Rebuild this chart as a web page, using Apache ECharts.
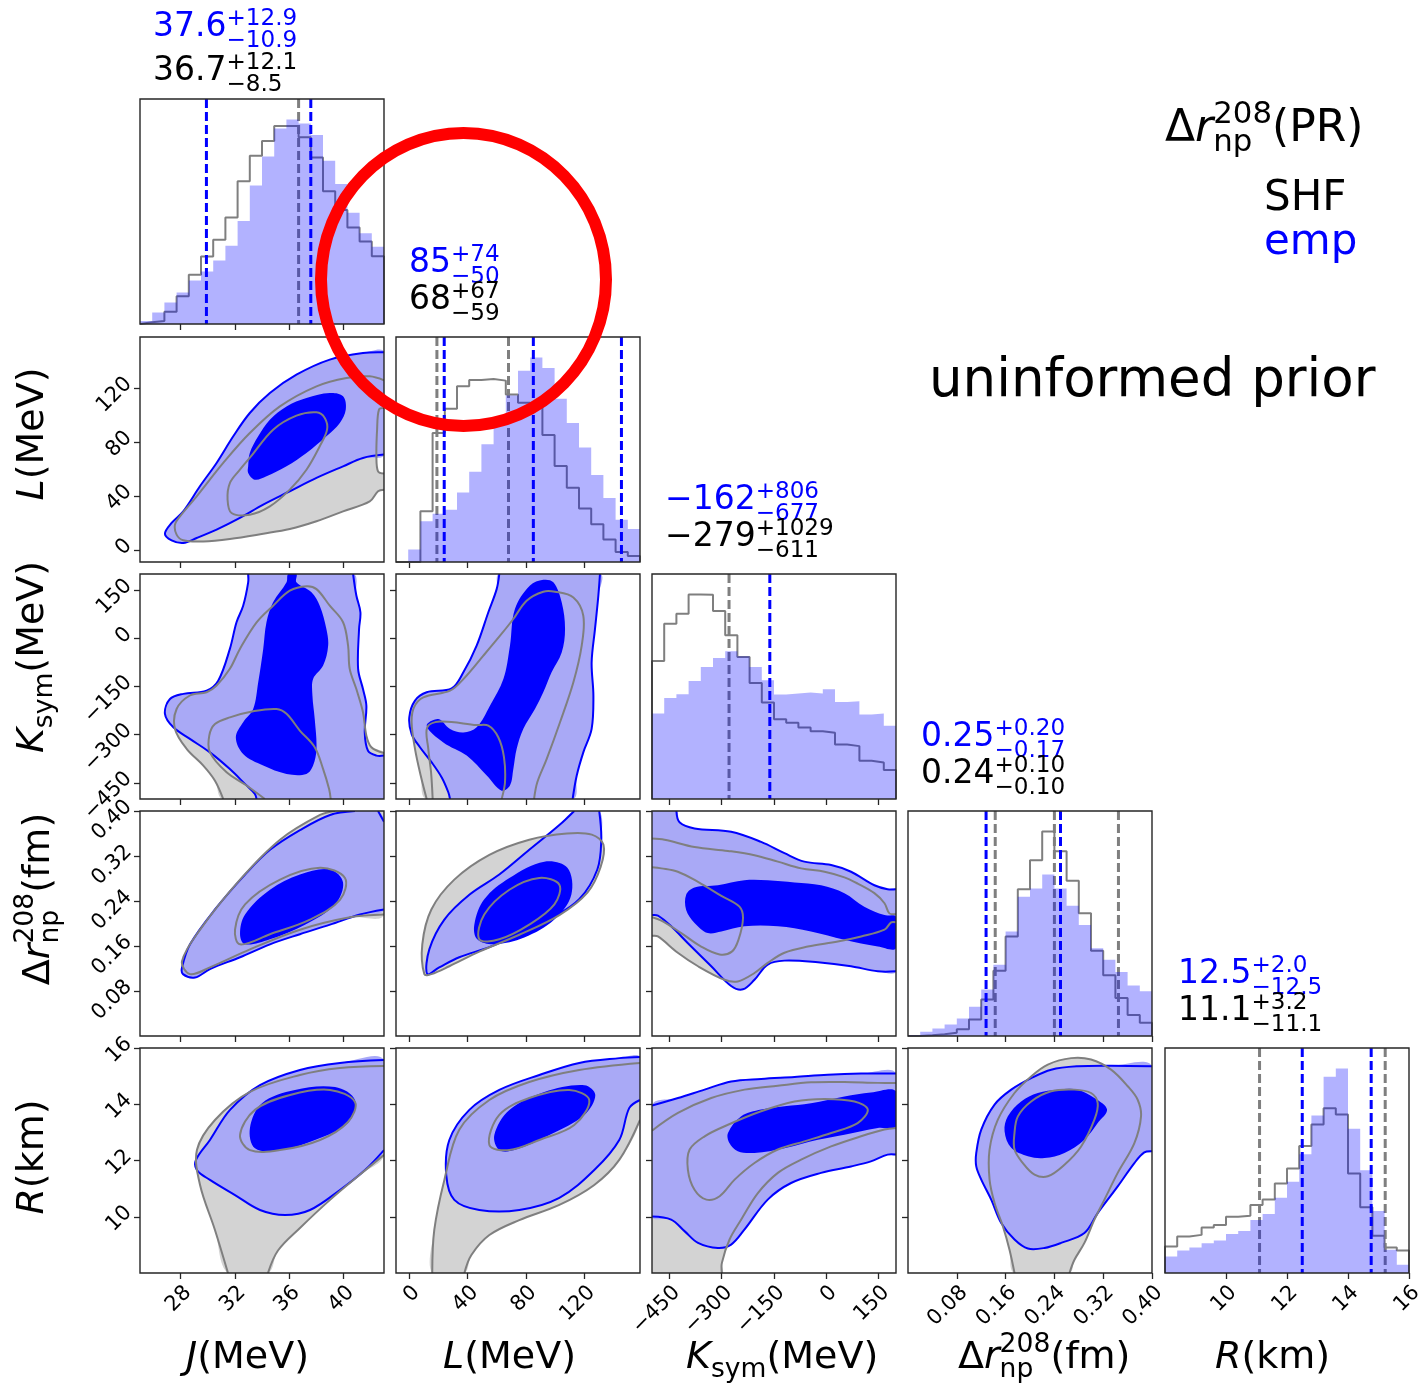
<!DOCTYPE html>
<html>
<head>
<meta charset="utf-8">
<script src="https://cdn.jsdelivr.net/npm/echarts@6/dist/echarts.min.js"></script>
<style>
html,body{margin:0;padding:0;background:#fff;}
#chart{width:1427px;height:1384px;}
</style>
</head>
<body>
<div id="chart"></div>
<script>
// ---------- parameter ranges and ticks ----------
const rangeJ = [25, 43];
const rangeL = [-9, 158];
const rangeK = [-500, 200];
const rangeD = [0, 0.40];
const rangeR = [8, 16];

const ticksJ = [28, 32, 36, 40];
const ticksL = [0, 40, 80, 120];
const ticksK = [-450, -300, -150, 0, 150];
const ticksD = [0.08, 0.16, 0.24, 0.32, 0.40];
const ticksR = [10, 12, 14, 16];

// ---------- 1D marginals (20 bins each, arbitrary units) ----------
const histJ_emp = [9,35,65,95,132,159,192,237,312,419,507,592,619,607,572,494,424,337,275,234];
const histJ_shf = [5,9,37,84,149,204,255,322,432,509,554,599,599,565,504,402,345,292,250,205];
const histL_emp = [0,38,123,146,158,210,273,356,428,503,578,618,586,493,420,346,263,193,128,100];
const histL_shf = [0,0,153,390,463,531,550,553,548,506,481,466,384,290,224,162,114,68,30,18];
const histK_emp = [257,304,315,355,397,424,444,429,397,357,314,317,320,317,330,292,294,254,257,220];
const histK_shf = [415,527,557,615,614,565,492,427,349,290,240,229,215,204,199,164,159,115,110,87];
const histD_emp = [3,13,23,35,53,88,140,215,315,420,445,487,445,393,335,265,230,193,152,135];
const histD_shf = [0,2,5,10,20,50,110,197,300,443,530,617,557,468,370,257,183,115,63,40];
const histR_emp = [50,68,77,90,98,118,127,160,178,227,275,358,475,592,617,435,310,187,70,25];
const histR_shf = [80,110,115,137,145,170,173,205,222,270,315,383,448,497,478,300,198,112,77,68];

// ---------- summary statistics ----------
const medianEmp = [37.6, 85, -162, 0.25, 12.5];
const plusEmp   = [12.9, 74, 806, 0.20, 2.0];
const minusEmp  = [10.9, 50, 677, 0.17, 12.5];
const medianShf = [36.7, 68, -279, 0.24, 11.1];
const plusShf   = [12.1, 67, 1029, 0.10, 3.2];
const minusShf  = [8.5, 59, 611, 0.10, 11.1];
const decimals  = [1, 0, 0, 2, 1];
// additional quantile markers
const boundsEmp = [[29.9], [24, 145.3], [], [0.128], [14.76]];
const boundsShf = [[], [19], [], [0.143, 0.345], [15.22]];

// ---------- 2D credible regions (outer / inner) ----------
const empOuter_J_L = [[26.84,12],[27.33,20],[28.19,28.6],[29.42,47.2],[30.65,64.5],[31.88,84.3],[33.1,101.6],[34.58,116.4],[36.54,130],[39.0,141.2],[41.45,146.1],[43,146.6],[43,70.7],[41.45,68.2],[39.98,62],[38.02,53.4],[36.05,43.5],[34.09,33.6],[32.37,23.7],[30.65,15],[29.18,8.8],[28.19,5.1],[27.33,7.1]];
const empInner_J_L = [[32.98,62],[33.1,71.9],[33.72,84.3],[34.58,96.6],[35.81,106.5],[37.28,112.7],[39,116.4],[39.98,114],[40.18,104.1],[39.74,94.2],[38.75,84.3],[37.28,71.9],[35.81,62],[34.33,54.6],[33.47,52.1],[32.98,57.1]];
const shfOuter_J_L = [[27.7,11.3],[27.58,18.7],[27.95,24.9],[29.18,39.7],[31.14,64.5],[33.1,86.7],[35.32,106.5],[38.02,121.4],[40.23,127.6],[41.95,128.8],[43,125.8],[43,105.3],[42.63,104.1],[42.49,89.2],[42.44,69.4],[42.56,58.3],[43,56.6],[43,44.7],[42.56,43.5],[41.95,36],[39.98,28.6],[38.02,21.2],[36.05,15.5],[34.09,12],[31.63,8.1],[29.67,6.3],[28.19,7.1]];
const shfInner_J_L = [[31.46,37.3],[31.63,49.6],[32.37,59.5],[33.23,69.9],[34.82,89.2],[36.54,99.6],[38.02,102.1],[38.63,97.9],[38.8,89.2],[38.26,76.9],[37.28,59.5],[36.05,44.7],[34.58,32.3],[33.1,26.1],[31.75,27.4]];

const empOuter_J_K = [[32.98,200],[32.98,174],[32.61,101],[32.12,50],[31.63,-33],[30.77,-132],[29.91,-163],[28.19,-173],[27.21,-189],[26.84,-235],[27.46,-277],[28.68,-313],[30.16,-355],[31.63,-407],[32.74,-453],[33.47,-484],[33.6,-500],[43,-500],[43,-365],[42.44,-365],[41.82,-350],[41.58,-293],[41.7,-210],[41.45,-158],[41.09,-95],[41.16,29],[41.26,81],[40.96,133],[40.72,200]];
const empInner_J_K = [[35.93,200],[36.54,200],[36.54,174],[37.65,143],[38.26,101.5],[38.75,28.9],[38.88,-23],[38.51,-85],[37.77,-127],[37.72,-178],[37.89,-251],[38.02,-344],[37.77,-396],[37.28,-422],[35.81,-422],[34.09,-396],[32.61,-360],[32.07,-308],[32.61,-261],[33.35,-220],[33.72,-137],[34.09,-33],[34.33,50],[34.82,112],[35.81,174]];
const shfOuter_J_K = [[37.28,162],[36.05,148],[34.82,101.5],[33.6,49.6],[32.37,-33],[31.63,-95],[30.65,-147],[29.91,-168],[28.68,-178],[27.7,-220],[27.58,-282],[28.44,-344],[29.67,-396],[30.53,-443],[31.14,-500],[43,-500],[43,-357],[42.07,-339],[41.7,-303],[41.45,-230],[40.96,-158],[40.47,-95],[40.35,-23],[39.98,50],[39,101.5],[38.02,153]];
const shfInner_J_K = [[34.21,-500],[32.86,-458],[31.39,-417],[30.16,-355],[30.11,-303],[30.53,-267],[31.63,-246],[33.35,-227],[35.07,-220],[35.81,-235],[36.79,-287],[37.89,-339],[38.51,-407],[38.95,-469],[39.07,-500]];

const empOuter_L_K = [[61.7,200],[59.9,153],[54.2,81],[46.2,-23],[37.1,-106],[29.1,-156],[12,-168],[4,-194],[0.1,-246],[1.7,-298],[7.4,-339],[15.4,-386],[22.3,-433],[26.8,-479],[28,-500],[111.9,-500],[114.7,-427],[119.2,-355],[124.9,-282],[126.1,-179],[124.9,-75],[127.2,29],[129.5,133],[130.6,200]];
const empInner_L_K = [[12,-272],[20,-251],[28,-282],[37.1,-293],[46.2,-277],[55.3,-210],[64.5,-127],[69,-23],[72.4,91],[82.7,164],[91.8,182],[98.7,174],[104.4,112],[106.7,29],[104.4,-44],[97.5,-106],[91.8,-168],[86.1,-220],[78.1,-282],[73.6,-344],[71.3,-407],[69,-458],[63.3,-474],[53.1,-427],[39.4,-365],[23.4,-324]];
const shfOuter_L_K = [[12,-500],[7.9,-427],[4,-344],[1.7,-262],[3.3,-215],[9.7,-184],[28,-163],[37.1,-127],[50.8,-54],[62.2,8],[71.3,60],[80.4,117],[91.8,145],[99.8,145],[112.4,127],[119.2,70],[118.1,-23],[112.4,-137],[103.2,-262],[94.1,-376],[87.7,-448],[85.5,-500]];
const shfInner_L_K = [[16.1,-500],[15,-417],[13.1,-344],[12.4,-277],[21.1,-259],[46.2,-270],[54.2,-272],[61,-308],[64.9,-370],[65.6,-448],[63.3,-500]];

const empOuter_J_D = [[28.1,0.122],[28.69,0.163],[30.53,0.225],[32.75,0.287],[34.59,0.331],[36.8,0.366],[39.02,0.393],[40.86,0.40],[42.56,0.40],[43,0.381],[43,0.225],[41.23,0.216],[39.02,0.198],[36.8,0.181],[34.59,0.163],[32.38,0.14],[30.16,0.119],[29.06,0.104],[28.17,0.11]];
const empInner_J_D = [[32.38,0.181],[32.75,0.216],[34.59,0.26],[36.8,0.287],[39.02,0.296],[39.98,0.273],[39.39,0.234],[37.17,0.198],[34.59,0.172],[32.75,0.163]];
const shfOuter_J_D = [[28.1,0.133],[29.43,0.189],[32.38,0.278],[35.33,0.349],[38.28,0.393],[39.39,0.40],[43,0.40],[43,0.216],[40.49,0.211],[36.8,0.189],[33.11,0.154],[30.16,0.122],[28.69,0.11]];
const shfInner_J_D = [[32.01,0.189],[32.75,0.234],[35.33,0.278],[38.28,0.299],[40.12,0.281],[39.75,0.242],[37.54,0.207],[34.59,0.181],[32.38,0.163]];

const empOuter_L_D = [[12.4,0.11],[13.8,0.154],[24.1,0.207],[41.2,0.251],[61.7,0.287],[82.2,0.331],[102.8,0.375],[113,0.40],[130.1,0.40],[131.5,0.349],[128.8,0.296],[116.4,0.243],[96,0.207],[75.4,0.181],[54.9,0.158],[34.3,0.14],[20.6,0.122]];
const empInner_L_D = [[44.6,0.198],[51.4,0.243],[68.6,0.281],[92.5,0.31],[108.3,0.299],[111,0.251],[99.4,0.207],[78.8,0.175],[58.3,0.163],[46.6,0.172]];
const shfOuter_L_D = [[10.4,0.11],[9,0.163],[15.2,0.225],[30.9,0.278],[54.9,0.322],[82.2,0.349],[108,0.36],[125,0.358],[133,0.34],[131,0.3],[122,0.255],[102.8,0.215],[75.4,0.18],[48,0.15],[27.5,0.124],[15.2,0.11]];
const shfInner_L_D = [[48,0.172],[51.4,0.216],[68.6,0.26],[89.1,0.281],[102.8,0.269],[99.4,0.234],[82.2,0.198],[61.7,0.172]];

const empOuter_K_D = [[-500,0.40],[-430,0.40],[-421,0.38],[-378,0.369],[-273,0.363],[-187,0.345],[-120,0.325],[-63,0.31],[14,0.304],[71,0.292],[138,0.268],[176,0.261],[200,0.261],[200,0.115],[148,0.115],[71,0.124],[-24,0.131],[-120,0.134],[-168,0.127],[-206,0.1],[-239,0.083],[-273,0.089],[-330,0.124],[-397,0.165],[-445,0.195],[-483,0.214],[-500,0.215]];
const empInner_K_D = [[-402,0.251],[-378,0.264],[-311,0.268],[-235,0.277],[-168,0.277],[-91,0.273],[-15,0.268],[52,0.254],[109,0.23],[167,0.215],[200,0.212],[200,0.156],[148,0.159],[52,0.171],[-44,0.186],[-139,0.195],[-235,0.195],[-301,0.186],[-340,0.183],[-378,0.201],[-402,0.224]];
const shfOuter_K_D = [[-500,0.351],[-464,0.349],[-378,0.336],[-282,0.329],[-206,0.3215],[-139,0.31],[-72,0.298],[-5,0.292],[52,0.282],[90,0.271],[138,0.254],[167,0.236],[181,0.218],[200,0.217],[200,0.202],[186,0.202],[167,0.189],[100,0.177],[33,0.168],[-53,0.159],[-120,0.148],[-168,0.13],[-206,0.112],[-254,0.097],[-292,0.1],[-368,0.124],[-426,0.148],[-483,0.177],[-500,0.178]];
const shfInner_K_D = [[-500,0.30],[-473,0.298],[-426,0.292],[-368,0.274],[-301,0.249],[-249,0.23],[-239,0.209],[-252,0.171],[-271,0.15],[-306,0.145],[-359,0.159],[-416,0.183],[-473,0.205],[-500,0.211]];

const empOuter_J_R = [[29.13,12.02],[30.16,12.73],[31.64,13.8],[33.85,14.68],[36.8,15.22],[39.75,15.47],[43,15.57],[43,12.37],[41.6,11.66],[39.75,10.95],[37.54,10.24],[35.7,10.06],[33.85,10.24],[32.01,10.77],[30.16,11.31],[29.2,11.66]];
const empInner_J_R = [[33.11,13.16],[34,14.04],[36.43,14.51],[39.39,14.61],[40.86,14.15],[40.34,13.33],[37.91,12.73],[35.33,12.37],[33.48,12.44]];
const shfOuter_J_R = [[29.2,12.37],[30.53,13.44],[33.11,14.44],[36.8,15.04],[39.75,15.29],[43,15.36],[43,12.2],[41.23,11.5],[39.02,10.6],[36.8,9.6],[35.18,8.8],[34.44,8],[31.49,8],[30.53,9.53],[29.43,11.13]];
const shfInner_J_R = [[32.38,12.91],[33.48,13.8],[36.07,14.33],[39.02,14.51],[40.86,14.08],[40.34,13.37],[38.28,12.73],[35.33,12.37],[33.11,12.37]];

const empOuter_L_R = [[25.4,11.48],[27.5,12.73],[41.2,13.8],[61.7,14.51],[89.1,15.04],[116.4,15.47],[143.8,15.64],[158,15.68],[158,14.15],[150.7,13.87],[143.8,12.73],[126.7,11.66],[102.8,10.67],[75.4,10.24],[48,10.24],[30.9,10.6]];
const empInner_L_R = [[58.3,12.91],[68.6,13.8],[92.5,14.44],[119.9,14.68],[127.4,14.33],[119.9,13.62],[96,12.91],[72,12.37],[61.7,12.37]];
const shfOuter_L_R = [[15.8,8],[17.2,9.53],[24.1,11.31],[34.3,13.09],[54.9,14.15],[82.2,14.79],[116.4,15.22],[158,15.47],[158,13.44],[143.8,12.02],[126.7,11.13],[102.8,10.42],[75.4,9.88],[54.9,9.35],[42.6,8.64],[37.8,8]];
const shfInner_L_R = [[54.9,12.55],[61.7,13.62],[82.2,14.22],[109.6,14.51],[123.3,14.15],[113,13.26],[89.1,12.73],[68.6,12.37]];

const empOuter_K_R = [[-500,13.95],[-425.5,14.22],[-349,14.52],[-273,14.81],[-187,14.9],[-91,14.97],[4,15.05],[100,15.09],[200,15.09],[200,12.21],[176,12.21],[128,11.97],[71,11.79],[-15,11.56],[-101,11.2],[-168,10.61],[-235,9.54],[-273,9.01],[-311,8.89],[-368,9.07],[-406,9.48],[-445,9.9],[-500,10.01]];
const empInner_K_R = [[-282,12.98],[-244,13.57],[-187,13.81],[-120,13.93],[-44,14.04],[52,14.28],[128,14.42],[200,14.46],[200,13.21],[148,13.16],[52,12.92],[-24,12.74],[-120,12.44],[-206,12.27],[-254,12.33],[-278,12.62]];
const shfOuter_K_R = [[-500,13.06],[-425.5,13.69],[-330,14.22],[-234.5,14.52],[-139,14.66],[-43.5,14.78],[52,14.79],[147.5,14.76],[200,14.76],[200,13.16],[166.6,13.1],[99.7,12.86],[13.8,12.5],[-72.2,12.03],[-139,11.56],[-196.3,10.84],[-244,9.9],[-277.5,9.19],[-299.5,8.36],[-299.5,8],[-500,8]];
const shfInner_K_R = [[-344,10.61],[-378,10.96],[-397,11.67],[-392,12.39],[-349,12.86],[-282,13.27],[-187,13.75],[-91,14.1],[-5,14.19],[81,14.1],[119,13.81],[90,13.33],[14,12.98],[-63,12.68],[-139,12.39],[-206,11.91],[-263,11.32],[-306,10.73]];

const empOuter_D_R = [[0.1119,12.27],[0.1201,13.1],[0.1419,13.99],[0.1692,14.52],[0.2019,14.93],[0.2347,15.23],[0.2783,15.35],[0.3329,15.37],[0.40,15.35],[0.40,12.33],[0.3874,12.29],[0.3711,11.91],[0.3438,11.08],[0.311,10.13],[0.2892,9.42],[0.251,9.07],[0.2237,8.89],[0.1965,8.87],[0.1746,9.19],[0.1528,9.78],[0.1364,10.61],[0.1201,11.32],[0.1119,11.79]];
const empInner_D_R = [[0.1583,13.04],[0.1637,13.57],[0.1855,14.1],[0.2128,14.4],[0.2456,14.52],[0.2783,14.52],[0.3056,14.22],[0.3263,13.81],[0.311,13.33],[0.2892,12.74],[0.2565,12.27],[0.2237,12.09],[0.1965,12.15],[0.1692,12.45]];
const shfOuter_D_R = [[0.1746,8],[0.1664,8.83],[0.1555,9.66],[0.1419,10.49],[0.1337,11.32],[0.1337,12.39],[0.1473,13.45],[0.1746,14.4],[0.2019,14.99],[0.2292,15.41],[0.2674,15.64],[0.3001,15.59],[0.3329,15.23],[0.3602,14.64],[0.3765,14.16],[0.382,13.57],[0.3711,12.62],[0.3438,11.56],[0.322,10.61],[0.3056,9.9],[0.2892,9.07],[0.2729,8.47],[0.2647,8]];
const shfInner_D_R = [[0.1746,12.98],[0.1801,13.57],[0.2019,14.1],[0.2347,14.46],[0.2729,14.52],[0.3001,14.4],[0.311,14.04],[0.3056,13.45],[0.2838,12.5],[0.2565,11.85],[0.2292,11.44],[0.2074,11.5],[0.1883,11.91],[0.1746,12.39]];

// ---------- layout ----------
const FONT = 'DejaVu Sans';
const colLeft = [140, 396, 652, 908, 1165];
const rowTop = [99, 337, 574, 811, 1048];
const PW = 244, PH = 225;
const FRAME = '#262626';
const GREY = '#7f7f7f';
const BLUE = '#0000ff';
const LIGHT_BLUE = '#a9a9f6';
const LIGHT_GREY = '#d3d3d3';
const HIST_BLUE = 'rgba(0,0,255,0.3)';

const params = [
  { range: rangeJ, ticks: ticksJ, tickDec: 0, emp: histJ_emp, shf: histJ_shf },
  { range: rangeL, ticks: ticksL, tickDec: 0, emp: histL_emp, shf: histL_shf },
  { range: rangeK, ticks: ticksK, tickDec: 0, emp: histK_emp, shf: histK_shf },
  { range: rangeD, ticks: ticksD, tickDec: 2, emp: histD_emp, shf: histD_shf },
  { range: rangeR, ticks: ticksR, tickDec: 0, emp: histR_emp, shf: histR_shf }
];

const pairs = [
  { row: 1, col: 0, eo: empOuter_J_L, ei: empInner_J_L, so: shfOuter_J_L, si: shfInner_J_L },
  { row: 2, col: 0, eo: empOuter_J_K, ei: empInner_J_K, so: shfOuter_J_K, si: shfInner_J_K },
  { row: 2, col: 1, eo: empOuter_L_K, ei: empInner_L_K, so: shfOuter_L_K, si: shfInner_L_K },
  { row: 3, col: 0, eo: empOuter_J_D, ei: empInner_J_D, so: shfOuter_J_D, si: shfInner_J_D },
  { row: 3, col: 1, eo: empOuter_L_D, ei: empInner_L_D, so: shfOuter_L_D, si: shfInner_L_D },
  { row: 3, col: 2, eo: empOuter_K_D, ei: empInner_K_D, so: shfOuter_K_D, si: shfInner_K_D },
  { row: 4, col: 0, eo: empOuter_J_R, ei: empInner_J_R, so: shfOuter_J_R, si: shfInner_J_R },
  { row: 4, col: 1, eo: empOuter_L_R, ei: empInner_L_R, so: shfOuter_L_R, si: shfInner_L_R },
  { row: 4, col: 2, eo: empOuter_K_R, ei: empInner_K_R, so: shfOuter_K_R, si: shfInner_K_R },
  { row: 4, col: 3, eo: empOuter_D_R, ei: empInner_D_R, so: shfOuter_D_R, si: shfInner_D_R }
];

const fmtNum = (v, dec) => {
  const s = Math.abs(v).toFixed(dec);
  return (v < 0 ? '\u2212' : '') + s;
};

// ---------- grids and axes ----------
const grids = [], xAxes = [], yAxes = [], series = [];
const gridIndex = {};

const tickRich = { t: { fontSize: 21, fontFamily: FONT, color: '#000' } };
const tickFmt = dec => (v => '{t|' + fmtNum(v, dec) + '}');

for (let i = 0; i < 5; i++) {
  for (let j = 0; j <= i; j++) {
    const g = grids.length;
    gridIndex[i + '_' + j] = g;
    grids.push({ left: colLeft[j], top: rowTop[i], width: PW, height: PH,
      show: false, containLabel: false, outerBoundsMode: 'none' });
    const px = params[j];
    xAxes.push({
      type: 'value', gridIndex: g, min: px.range[0], max: px.range[1], position: 'bottom',
      axisLine: { show: false, onZero: false },
      axisTick: { show: true, customValues: px.ticks, length: 6, lineStyle: { color: FRAME, width: 1.3 } },
      axisLabel: { show: i === 4, customValues: px.ticks, rotate: 45, align: 'right',
        verticalAlign: 'top', margin: 9, fontSize: 21, fontFamily: FONT, color: '#000',
        formatter: tickFmt(px.tickDec), rich: tickRich },
      splitLine: { show: false }
    });
    if (i === j) {
      const ymax = 1.1 * Math.max(Math.max(...px.emp), Math.max(...px.shf));
      yAxes.push({ type: 'value', gridIndex: g, min: 0, max: ymax, show: false });
    } else {
      const py = params[i];
      yAxes.push({
        type: 'value', gridIndex: g, min: py.range[0], max: py.range[1], position: 'left',
        axisLine: { show: false, onZero: false },
        axisTick: { show: true, customValues: py.ticks, length: 6, lineStyle: { color: FRAME, width: 1.3 } },
        axisLabel: { show: j === 0, customValues: py.ticks, rotate: 45, align: 'right',
          verticalAlign: 'bottom', margin: 4, fontSize: 21, fontFamily: FONT, color: '#000',
          formatter: tickFmt(py.tickDec), rich: tickRich },
        splitLine: { show: false }
      });
    }
  }
}

// ---------- histograms on the diagonal ----------
// dashed quantile marker spanning the panel height
function vline(g, v, color, z) {
  series.push({
    type: 'custom', xAxisIndex: g, yAxisIndex: g, data: [[v, 0]], z: z, clip: true,
    silent: true, animation: false,
    renderItem: (prm, api) => {
      const cs = prm.coordSys;
      const x = api.coord([v, 0])[0];
      return { type: 'line', shape: { x1: x, y1: cs.y, x2: x, y2: cs.y + cs.height },
        style: { stroke: color, lineWidth: 3, lineDash: [9, 4], fill: null } };
    }
  });
}

params.forEach((p, k) => {
  const g = gridIndex[k + '_' + k];
  const n = p.emp.length;
  const w = (p.range[1] - p.range[0]) / n;
  const edge = b => p.range[0] + b * w;
  const shfData = [[edge(0), 0]];
  p.shf.forEach((v, b) => shfData.push([edge(b), v]));
  shfData.push([edge(n), p.shf[n - 1]], [edge(n), 0]);
  const empData = p.emp.map((v, b) => [edge(b), v]);
  empData.push([edge(n), p.emp[n - 1]]);

  series.push({
    type: 'line', xAxisIndex: g, yAxisIndex: g, data: shfData, step: 'end',
    symbol: 'none', showSymbol: false, silent: true, animation: false, z: 2,
    lineStyle: { color: GREY, width: 2 }
  });
  [medianShf[k]].concat(boundsShf[k]).forEach(v => vline(g, v, GREY, 3));
  [medianEmp[k]].concat(boundsEmp[k]).forEach(v => vline(g, v, BLUE, 3));
  series.push({
    type: 'line', xAxisIndex: g, yAxisIndex: g, data: empData, step: 'end',
    symbol: 'none', showSymbol: false, silent: true, animation: false, z: 4,
    lineStyle: { width: 0, color: HIST_BLUE },
    areaStyle: { color: HIST_BLUE, opacity: 1 }
  });
});

// ---------- 2D regions ----------
function near(a, b, span) { return Math.abs(a - b) < span * 1e-6; }
// split a closed outline into runs that skip segments lying on the plot frame
function outlineRuns(pts, xr, yr) {
  const sx = xr[1] - xr[0], sy = yr[1] - yr[0];
  const onEdge = (a, b) =>
    (near(a[0], xr[0], sx) && near(b[0], xr[0], sx)) || (near(a[0], xr[1], sx) && near(b[0], xr[1], sx)) ||
    (near(a[1], yr[0], sy) && near(b[1], yr[0], sy)) || (near(a[1], yr[1], sy) && near(b[1], yr[1], sy));
  const n = pts.length;
  let start = -1;
  for (let s = 0; s < n; s++) { if (onEdge(pts[s], pts[(s + 1) % n])) { start = s; break; } }
  if (start < 0) return { closed: true, runs: [pts] };
  const runs = []; let cur = null;
  for (let k = 1; k <= n; k++) {
    const s = (start + k) % n;
    const a = pts[s], b = pts[(s + 1) % n];
    if (onEdge(a, b)) { if (cur) { runs.push(cur); cur = null; } }
    else { if (!cur) cur = [a]; cur.push(b); }
  }
  if (cur) runs.push(cur);
  return { closed: false, runs };
}

const SMOOTH = 0.35;
function fillSeries(g, pts, color, z) {
  series.push({
    type: 'custom', xAxisIndex: g, yAxisIndex: g, data: pts, z: z, clip: true,
    silent: true, animation: false,
    renderItem: (prm, api) => {
      if (prm.dataIndex !== 0) return null;
      return { type: 'polygon', shape: { points: pts.map(p => api.coord(p)), smooth: SMOOTH },
        style: { fill: color, stroke: null, lineWidth: 0 } };
    }
  });
}
function strokeSeries(g, pts, xr, yr, color, width, z) {
  const o = outlineRuns(pts, xr, yr);
  series.push({
    type: 'custom', xAxisIndex: g, yAxisIndex: g, data: pts, z: z, clip: true,
    silent: true, animation: false,
    renderItem: (prm, api) => {
      if (prm.dataIndex !== 0) return null;
      const children = o.closed
        ? [{ type: 'polygon', shape: { points: pts.map(p => api.coord(p)), smooth: SMOOTH },
             style: { fill: 'none', stroke: color, lineWidth: width } }]
        : o.runs.map(r => ({ type: 'polyline', shape: { points: r.map(p => api.coord(p)), smooth: SMOOTH },
             style: { fill: 'none', stroke: color, lineWidth: width } }));
      return { type: 'group', children };
    }
  });
}

pairs.forEach(pr => {
  const g = gridIndex[pr.row + '_' + pr.col];
  const xr = params[pr.col].range, yr = params[pr.row].range;
  fillSeries(g, pr.so, LIGHT_GREY, 1);
  fillSeries(g, pr.eo, LIGHT_BLUE, 2);
  fillSeries(g, pr.ei, BLUE, 3);
  strokeSeries(g, pr.eo, xr, yr, BLUE, 2, 4);
  strokeSeries(g, pr.so, xr, yr, GREY, 2, 5);
  strokeSeries(g, pr.si, xr, yr, GREY, 2, 5);
});

// ---------- text helpers (math-style labels) ----------
const measureCtx = document.createElement('canvas').getContext('2d');
function fontStr(size, italic) { return (italic ? 'italic ' : '') + size + 'px "' + FONT + '"'; }
function textWidth(str, size, italic) { measureCtx.font = fontStr(size, italic); return measureCtx.measureText(str).width; }
function textPiece(str, x, base, size, italic, color) {
  return { type: 'text', x: x, y: base - 0.346 * size, silent: true,
    style: { text: str, font: fontStr(size, italic), fill: color,
      align: 'left', verticalAlign: 'middle', textAlign: 'left', textVerticalAlign: 'middle' } };
}
// tokens: {t, it} for running text, {sup, sub} for stacked scripts
function mathLabel(tokens, o) {
  const s = o.size, ss = s * 0.7;
  const kids = []; let cx = 0;
  tokens.forEach(tk => {
    if (tk.t !== undefined) {
      kids.push(textPiece(tk.t, cx, 0, s, tk.it, o.color));
      cx += textWidth(tk.t, s, tk.it);
    } else {
      let w = 0;
      if (tk.sup) { kids.push(textPiece(tk.sup, cx, -o.supUp, ss, false, o.color)); w = Math.max(w, textWidth(tk.sup, ss)); }
      if (tk.sub) { kids.push(textPiece(tk.sub, cx, o.subDown, ss, false, o.color)); w = Math.max(w, textWidth(tk.sub, ss)); }
      cx += w;
    }
  });
  const shift = o.anchor === 'center' ? -cx / 2 : (o.anchor === 'right' ? -cx : 0);
  kids.forEach(kd => { kd.x += shift; });
  return { type: 'group', x: o.x, y: o.y, rotation: o.rotation || 0, children: kids, z: 60, silent: true };
}

const graphics = [];

// plot frames
for (let i = 0; i < 5; i++) {
  for (let j = 0; j <= i; j++) {
    graphics.push({ type: 'rect', z: 50, silent: true,
      shape: { x: colLeft[j], y: rowTop[i], width: PW, height: PH },
      style: { fill: 'none', stroke: FRAME, lineWidth: 1.4 } });
  }
}

// summary labels above each marginal
params.forEach((p, k) => {
  const x0 = colLeft[k] + 13;
  const empBase = rowTop[k] - (k === 0 ? 60 : 62);
  const shfBase = rowTop[k] - (k === 0 ? 16 : 25);
  graphics.push(mathLabel([{ t: fmtNum(medianEmp[k], decimals[k]) },
    { sup: '+' + plusEmp[k].toFixed(decimals[k]), sub: '\u2212' + minusEmp[k].toFixed(decimals[k]) }],
    { x: x0, y: empBase, size: 33, color: BLUE, supUp: 12.5, subDown: 9.5 }));
  graphics.push(mathLabel([{ t: fmtNum(medianShf[k], decimals[k]) },
    { sup: '+' + plusShf[k].toFixed(decimals[k]), sub: '\u2212' + minusShf[k].toFixed(decimals[k]) }],
    { x: x0, y: shfBase, size: 33, color: '#000', supUp: 12.5, subDown: 9.5 }));
});

// axis titles
const AX = 38;
const titleJ = [{ t: 'J', it: true }, { t: '(MeV)' }];
const titleL = [{ t: 'L', it: true }, { t: '(MeV)' }];
const titleK = [{ t: 'K', it: true }, { sub: 'sym' }, { t: '(MeV)' }];
const titleD = [{ t: '\u0394' }, { t: 'r', it: true }, { sup: '208', sub: 'np' }, { t: '(fm)' }];
const titleR = [{ t: 'R', it: true }, { t: '(km)' }];
const xTitleLeft = [186, 443, 686, 958, 1215];
[titleJ, titleL, titleK, titleD, titleR].forEach((tk, k) => {
  graphics.push(mathLabel(tk, { x: xTitleLeft[k], y: 1371, size: AX, color: '#000',
    supUp: 17, subDown: 8 }));
});
const yTitleBase = [46, 46, 52, 46];
const yTitleMid = [434, 657, 899, 1157];
[titleL, titleK, titleD, titleR].forEach((tk, k) => {
  graphics.push(mathLabel(tk, { x: yTitleBase[k], y: yTitleMid[k], size: AX, color: '#000',
    supUp: 17, subDown: 8, anchor: 'center', rotation: Math.PI / 2 }));
});

// legend text
graphics.push(mathLabel([{ t: '\u0394' }, { t: 'r', it: true }, { sup: '208', sub: 'np' }, { t: '(PR)' }],
  { x: 1165, y: 145, size: 44, color: '#000', supUp: 19, subDown: 9 }));
graphics.push(mathLabel([{ t: 'SHF' }], { x: 1264, y: 214, size: 42, color: '#000' }));
graphics.push(mathLabel([{ t: 'emp' }], { x: 1264, y: 258, size: 42, color: BLUE }));
graphics.push(mathLabel([{ t: 'uninformed prior' }], { x: 929, y: 401, size: 53, color: '#000' }));

// red highlight ring
graphics.push({ type: 'ellipse', z: 100, silent: true,
  shape: { cx: 463.5, cy: 279.5, rx: 142.5, ry: 146.5 },
  style: { fill: 'none', stroke: '#ff0000', lineWidth: 12 } });

const chart = echarts.init(document.getElementById('chart'), null, { renderer: 'canvas', width: 1427, height: 1384 });
chart.setOption({
  backgroundColor: '#ffffff',
  animation: false,
  grid: grids,
  xAxis: xAxes,
  yAxis: yAxes,
  series: series,
  graphic: { elements: graphics }
});
</script>
</body>
</html>
